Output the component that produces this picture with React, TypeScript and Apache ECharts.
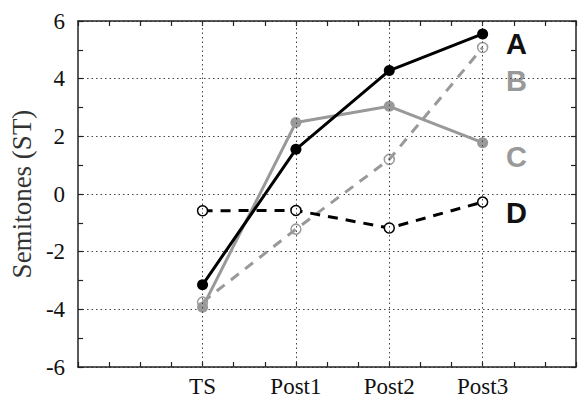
import React, { useEffect, useRef } from "react";
import * as echarts from "echarts";

const categories = ["TS", "Post1", "Post2", "Post3"];
const seriesNames = ["A", "B", "C", "D"];
const valuesA = [-3.15, 1.55, 4.28, 5.55];
const valuesB = [-3.75, -1.22, 1.2, 5.08];
const valuesC = [-3.93, 2.48, 3.04, 1.78];
const valuesD = [-0.58, -0.57, -1.18, -0.28];
const yTicks = [-6, -4, -2, 0, 2, 4, 6];
const yTitle = "Semitones (ST)";

// category positions on a value axis measured in thirds of a step
const catPos = categories.map((_, i) => 4 + i * 3);

const serifFont = "Liberation Serif";
const gray = "#999999";

export default function App() {
  const ref = useRef<HTMLDivElement>(null);
  useEffect(() => {
    if (!ref.current) return;
    const chart = echarts.init(ref.current, undefined, { renderer: "svg" });
    const pts = (vals: number[]) => vals.map((v, i) => [catPos[i], v]);
    const labelMap: Record<number, string> = {};
    catPos.forEach((p, i) => (labelMap[p] = categories[i]));
    const xBase = {
      type: "value",
      min: 0,
      max: 16,
      interval: 1,
      axisLine: { show: true, onZero: false, lineStyle: { color: "#222", width: 1.5 } },
      axisTick: { show: true, inside: true, length: 5, lineStyle: { color: "#222", width: 1.2 } },
      splitLine: { show: false },
    };
    const yBase = {
      type: "value",
      min: yTicks[0],
      max: yTicks[yTicks.length - 1],
      interval: 2,
      axisLine: { show: true, onZero: false, lineStyle: { color: "#222", width: 1.5 } },
      axisTick: { show: true, inside: true, length: 5, lineStyle: { color: "#222", width: 1.2 } },
      minorTick: { show: true, splitNumber: 2, length: 5, lineStyle: { color: "#222", width: 1.2 } },
    };
    const labelColors = ["#111111", gray, gray, "#111111"];
    const labelY = [44, 81, 157, 213];
    chart.setOption({
      animation: false,
      grid: { left: 76, right: -2, top: 21, bottom: 36, containLabel: false },
      xAxis: [
        {
          ...xBase,
          position: "bottom",
          axisLabel: {
            show: true,
            margin: 8,
            fontFamily: serifFont,
            fontSize: 23,
            color: "#111",
            formatter: (v: number) => labelMap[Math.round(v)] ?? "",
          },
        },
        { ...xBase, position: "top", axisLabel: { show: false } },
      ],
      yAxis: [
        {
          ...yBase,
          position: "left",
          name: yTitle,
          nameLocation: "middle",
          nameGap: 42,
          nameRotate: 90,
          nameTextStyle: {
            fontFamily: serifFont,
            fontSize: 27,
            fontWeight: "normal",
            color: "#333",
            verticalAlign: "middle",
          },
          axisLabel: { show: true, margin: 13, fontFamily: serifFont, fontSize: 23, color: "#111" },
          splitLine: { show: true, lineStyle: { color: "#444", width: 1, type: [1.5, 3] } },
        },
        {
          ...yBase,
          position: "right",
          axisLabel: { show: false },
          splitLine: { show: false },
        },
      ],
      graphic: seriesNames.map((n, i) => ({
        type: "text",
        x: 506,
        y: labelY[i],
        style: {
          text: n,
          font: "normal bold 29px 'Liberation Sans'",
          fill: labelColors[i],
          align: "left",
          verticalAlign: "middle",
        },
      })),
      series: [
        {
          name: "grid",
          type: "line",
          data: [],
          markLine: {
            silent: true,
            symbol: "none",
            label: { show: false },
            lineStyle: { color: "#444", width: 1, type: [1.5, 3] },
            data: catPos.map((p) => ({ xAxis: p })),
          },
        },
        {
          name: "B",
          type: "line",
          data: pts(valuesB),
          symbol: "circle",
          symbolSize: 10,
          lineStyle: { color: gray, width: 3, type: [10, 8] },
          itemStyle: { color: "rgba(0,0,0,0)", borderColor: gray, borderWidth: 1.5 },
          z: 2,
        },
        {
          name: "C",
          type: "line",
          data: pts(valuesC),
          symbol: "circle",
          symbolSize: 11,
          lineStyle: { color: gray, width: 3 },
          itemStyle: { color: gray, borderWidth: 0 },
          z: 3,
        },
        {
          name: "D",
          type: "line",
          data: pts(valuesD),
          symbol: "circle",
          symbolSize: 10,
          lineStyle: { color: "#000", width: 3, type: [10, 8] },
          itemStyle: { color: "#fff", borderColor: "#000", borderWidth: 1.5 },
          z: 4,
        },
        {
          name: "A",
          type: "line",
          data: pts(valuesA),
          symbol: "circle",
          symbolSize: 11,
          lineStyle: { color: "#000", width: 3 },
          itemStyle: { color: "#000", borderWidth: 0 },
          z: 5,
        },
      ],
    });
    return () => chart.dispose();
  }, []);
  return (
    <div
      ref={ref}
      style={{ position: "fixed", left: 0, top: 0, width: 579, height: 403, background: "#fff" }}
    />
  );
}
